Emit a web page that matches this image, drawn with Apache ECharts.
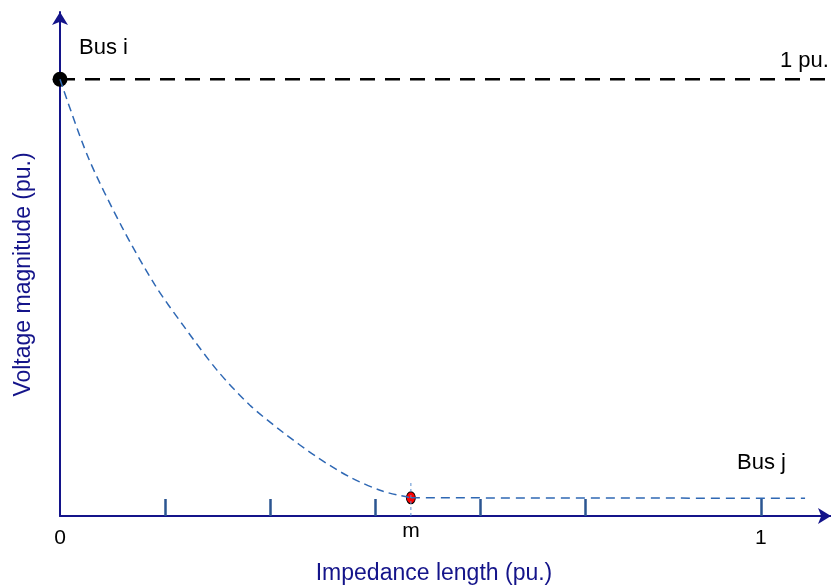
<!DOCTYPE html>
<html>
<head>
<meta charset="utf-8">
<script src="https://cdn.jsdelivr.net/npm/echarts@6/dist/echarts.min.js"></script>
<style>
  html, body { margin: 0; padding: 0; background: #fff; }
  #chart { width: 831px; height: 586px; }
</style>
</head>
<body>
<div id="chart"></div>
<script>
// voltage profile along the line (x: impedance length, y: pu.)
const curveX = [0, 0.040, 0.0885, 0.1356, 0.1755, 0.224, 0.271, 0.318, 0.367, 0.414, 0.461, 0.5006];
const curveY = [1, 0.822, 0.6615, 0.5286, 0.437, 0.334, 0.2537, 0.1918, 0.1345, 0.0887, 0.0566, 0.0417];
const flatX = [0.5006, 1.063];
const flatY = [0.0417, 0.0406];
const refX = [0, 1.1];
const refY = [1, 1];
const busI = [0, 1];
const minPoint = [0.5006, 0.0417];
const mLineY = [0, 0.082];
const tickValues = [0.15, 0.3, 0.45, 0.6, 0.75, 1];
const labelValues = [0, 1];

const FONT = 'Liberation Sans, Arial, sans-serif';
const navy = '#14148a';

const chart = echarts.init(document.getElementById('chart'));

const option = {
  animation: false,
  grid: { left: 60, right: 0, top: 12, bottom: 70, outerBoundsMode: 'none', containLabel: false },
  xAxis: {
    type: 'value',
    min: 0,
    max: 1.1,
    name: 'Impedance length (pu.)',
    nameLocation: 'middle',
    nameGap: 46,
    nameTextStyle: { color: navy, fontSize: 23, fontFamily: FONT, padding: [0, 23, 0, 0] },
    axisLine: {
      show: true,
      symbol: ['none', 'arrow'],
      symbolSize: [12, 13],
      lineStyle: { color: navy, width: 2 }
    },
    axisTick: {
      show: true,
      inside: true,
      length: 17,
      customValues: tickValues,
      lineStyle: { color: '#2b5591', width: 2.5 }
    },
    axisLabel: {
      show: true,
      customValues: labelValues,
      margin: 12,
      color: '#000',
      fontSize: 21,
      fontFamily: FONT
    },
    splitLine: { show: false }
  },
  yAxis: {
    type: 'value',
    min: 0,
    max: 1.154,
    name: 'Voltage magnitude (pu.)',
    nameLocation: 'middle',
    nameGap: 25,
    nameTextStyle: { color: navy, fontSize: 23, fontFamily: FONT, padding: [0, 21, 0, 0] },
    axisLine: {
      show: true,
      symbol: ['none', 'arrow'],
      symbolSize: [12, 13],
      lineStyle: { color: navy, width: 2 }
    },
    axisTick: { show: false },
    axisLabel: { show: false },
    splitLine: { show: false }
  },
  series: [
    {
      // 1 pu. reference
      type: 'line',
      data: refX.map((x, i) => [x, refY[i]]),
      symbol: 'none',
      lineStyle: { color: '#000', width: 2.5, type: [15, 10] },
      silent: true
    },
    {
      type: 'line',
      data: curveX.map((x, i) => [x, curveY[i]]),
      smooth: 0.3,
      symbol: 'none',
      lineStyle: { color: '#2f68b4', width: 1.5, type: [8, 5] },
      silent: true
    },
    {
      type: 'line',
      data: flatX.map((x, i) => [x, flatY[i]]),
      symbol: 'none',
      lineStyle: { color: '#2f68b4', width: 1.5, type: [9, 6] },
      silent: true
    },
    {
      // dotted marker line at m, label m under the axis
      type: 'line',
      data: mLineY.map(y => [minPoint[0], y]),
      symbol: 'circle',
      symbolSize: 0,
      lineStyle: { color: '#5b8fd0', width: 1, type: [3, 3] },
      label: {
        show: true,
        position: 'bottom',
        distance: 5,
        formatter: p => (p.dataIndex === 0 ? 'm' : ''),
        color: '#000',
        fontSize: 21,
        fontFamily: FONT
      },
      silent: true
    },
    {
      type: 'scatter',
      data: [busI],
      symbol: 'circle',
      symbolSize: 15,
      itemStyle: { color: '#000', opacity: 1 },
      clip: false,
      silent: true
    },
    {
      type: 'scatter',
      data: [minPoint],
      symbol: 'circle',
      symbolSize: [9, 12],
      itemStyle: { color: '#ff0000', borderColor: '#000', borderWidth: 1, opacity: 1 },
      clip: false,
      silent: true
    }
  ],
  graphic: [
    { type: 'text', left: 79, top: 37, style: { text: 'Bus i', fill: '#000', font: '22px ' + FONT } },
    { type: 'text', left: 780, top: 50, style: { text: '1 pu.', fill: '#000', font: '22px ' + FONT } },
    { type: 'text', left: 737, top: 452, style: { text: 'Bus j', fill: '#000', font: '22px ' + FONT } }
  ]
};

chart.setOption(option);
</script>
</body>
</html>
